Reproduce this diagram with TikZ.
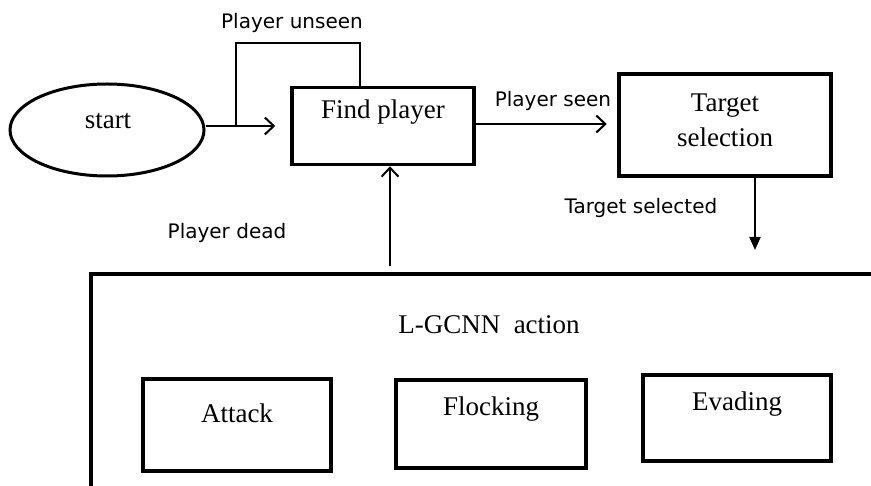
\documentclass[tikz,border=0pt]{standalone}
\usepackage{fontspec}
\setmainfont{Liberation Serif}
\newfontfamily\labelfont{DejaVu Sans}
\usetikzlibrary{arrows.meta,shapes.geometric}

\tikzset{
  box/.style={draw, line width=3.5pt, inner sep=0pt},
  serif/.style={font=\fontsize{27}{34}\selectfont, inner sep=0pt},
  lbl/.style={font=\labelfont\fontsize{20}{24}\selectfont, inner sep=0pt},
  conn/.style={line width=2pt},
  openarrow/.style={conn, -{Straight Barb[length=9pt,width=17pt,line width=2pt]}},
  filledarrow/.style={conn, -{Triangle[length=13pt,width=11pt]}}
}

\begin{document}
\begin{tikzpicture}[x=1pt,y=-1pt]
  \useasboundingbox (0,0) rectangle (871,486);

  % upper flow
  \node[ellipse, draw, line width=3pt, minimum width=194pt, minimum height=92pt, inner sep=0pt] (start) at (107,130) {};
  \node[serif] (starttxt) at (108,121) {start};

  \node[box, minimum width=182pt, minimum height=77pt] (find) at (383,126) {};
  \node[serif] (findtxt) at (383,112) {Find player};

  \node[box, line width=4.5pt, minimum width=212pt, minimum height=102pt] (target) at (725,125) {};
  \node[serif, align=center, font=\fontsize{27}{35}\selectfont] (targettxt) at (725,120) {Target\\selection};

  % action panel, open to the right and below
  \coordinate (panelTL) at (91,274);
  \draw[line width=3.5pt] (871,274) -- (panelTL) -- (91,490);
  \node[serif] (actiontxt) at (489,325) {L-GCNN\hspace{0.25em} action};

  \node[box, minimum width=188pt, minimum height=92pt] (attack) at (237,425) {};
  \node[serif] (attacktxt) at (237,413) {Attack};

  \node[box, minimum width=190pt, minimum height=88pt] (flock) at (491,424) {};
  \node[serif] (flocktxt) at (491,409) {Flocking};

  \node[box, minimum width=188pt, minimum height=86pt] (evade) at (737,418) {};
  \node[serif] (evadetxt) at (737,404) {Evading};

  % connectors
  \coordinate (jn) at (236,126);
  \coordinate (loopTop) at (360,43);
  \coordinate (selEnd) at (755,250);
  \coordinate (deadStart) at (390,266);

  \draw[openarrow, shorten >=15pt] (start.east |- jn) -- (find.west |- jn);
  \draw[conn] (jn) |- (loopTop) -- (loopTop |- find.north);
  \draw[openarrow, shorten >=10pt] (find.east |- 0,124) -- (target.west |- 0,124);
  \draw[filledarrow] (target.south -| selEnd) -- (selEnd);
  \draw[openarrow] (deadStart) -- (find.south -| deadStart);

  % labels
  \node[lbl] (unseen) at (292,23) {Player unseen};
  \node[lbl] (seen) at (553,101) {Player seen};
  \node[lbl] (selected) at (641,208) {Target selected};
  \node[lbl] (dead) at (227,233) {Player dead};
\end{tikzpicture}
\end{document}
